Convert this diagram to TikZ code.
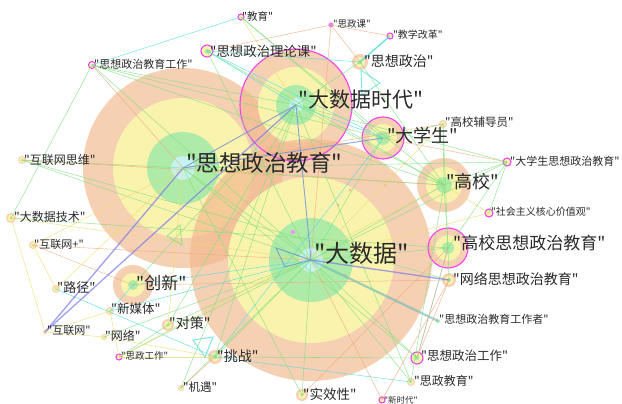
\documentclass[tikz,border=0pt]{standalone}
\usepackage{fontspec}
\newfontfamily\cjk{Noto Sans CJK SC}
\definecolor{cor}{HTML}{F2B98F}
\definecolor{cye}{HTML}{FBF6AE}
\definecolor{cgr}{HTML}{ACEBA8}
\definecolor{cbl}{HTML}{C8F3F3}
\definecolor{cmg}{HTML}{F040F0}
\definecolor{egr}{HTML}{7CE07C}
\definecolor{ecy}{HTML}{55DDE0}
\definecolor{eye}{HTML}{EEDD70}
\definecolor{eor}{HTML}{F0A878}
\definecolor{epu}{HTML}{8080E8}
\definecolor{ebl}{HTML}{7090D8}
\definecolor{txt}{HTML}{2A2A2A}
\begin{document}
\begin{tikzpicture}[x=1pt,y=-1pt,
  lbl/.style={font=\cjk\fontsize{#1}{#1}\selectfont, text=txt, anchor=west, inner sep=0pt},
  ring/.style={fill=#1, fill opacity=0.95, draw=none},
  oring/.style={fill=cor, fill opacity=0.68, draw=none},
  mring/.style={draw=cmg, line width=1.1pt, fill=none},
  eg/.style={draw=egr, line width=0.55pt, opacity=0.75},
  ec/.style={draw=ecy, line width=0.55pt, opacity=0.8},
  ey/.style={draw=eye, line width=0.55pt, opacity=0.8},
  eo/.style={draw=eor, line width=0.55pt, opacity=0.75},
  ep/.style={draw=epu, line width=1.3pt, opacity=0.75},
  eb/.style={draw=ebl, line width=0.9pt, opacity=0.8}]
\useasboundingbox (0,0) rectangle (622,404);
% centres
\coordinate (szjy) at (183,168);
\coordinate (dsj) at (311,260);
\coordinate (dsjsd) at (296,105);
\coordinate (dxs) at (383,138);
\coordinate (gx) at (444,185);
\coordinate (gxszzjy) at (448,248);
\coordinate (wlszzjy) at (449,280);
\coordinate (cx) at (133,285);
\coordinate (jy) at (241,17);
\coordinate (szzllk) at (207,51);
\coordinate (szzjygz) at (92,65);
\coordinate (hlwsw) at (22,160);
\coordinate (szk) at (331,25);
\coordinate (jxgg) at (390,36);
\coordinate (szzz) at (360,62);
\coordinate (gxfdy) at (443,124);
\coordinate (dxsszzjy) at (507,162);
\coordinate (dsjjs) at (11,218);
\coordinate (hlwp) at (33,245);
\coordinate (lj) at (56,289);
\coordinate (xmt) at (110,311);
\coordinate (hlw) at (45,332);
\coordinate (wl) at (104,337);
\coordinate (szgz) at (119,357);
\coordinate (dc) at (168,325);
\coordinate (tz) at (215,357);
\coordinate (jiyu) at (181,388);
\coordinate (sxx) at (302,395);
\coordinate (shzy) at (489,213);
\coordinate (szzjygzz) at (438,321);
\coordinate (szzgz) at (417,358);
\coordinate (szjyu) at (411,382);
\coordinate (xsd) at (382,400);
% triangle helper points
\coordinate (t1a) at (361,70); \coordinate (t1b) at (380,83); \coordinate (t1c) at (362,95);
\coordinate (t2a) at (193,340); \coordinate (t2b) at (213,337); \coordinate (t2c) at (205,357);
\coordinate (t3a) at (167,236); \coordinate (t3b) at (180,225); \coordinate (t3c) at (182,245);
\coordinate (t4a) at (276,248); \coordinate (t4b) at (285,267);
% big circles
\fill[oring] (szjy) circle (100);
\fill[ring=cye] (szjy) circle (70);
\fill[ring=cgr] (szjy) circle (36);
\fill[ring=cbl] (szjy) circle (12);
\fill[oring] (dsjsd) circle (56);
\fill[ring=cye] (dsjsd) circle (38);
\fill[ring=cgr] (dsjsd) circle (20);
\fill[ring=cbl] (dsjsd) circle (7);
\fill[oring] (dsj) circle (121);
\fill[ring=cye] (dsj) circle (83);
\fill[ring=cgr] (dsj) circle (42);
\fill[ring=cbl] (dsj) circle (12);
\draw[mring] (dsjsd) circle (56);
\fill[oring] (dxs) circle (21);
\fill[ring=cye] (dxs) circle (14);
\fill[ring=cgr] (dxs) circle (7);
\draw[mring] (dxs) circle (21);
\fill[oring] (gx) circle (27);
\fill[ring=cye] (gx) circle (18);
\fill[ring=cgr] (gx) circle (8);
\fill[oring] (gxszzjy) circle (20);
\fill[ring=cye] (gxszzjy) circle (13);
\fill[ring=cgr] (gxszzjy) circle (6);
\draw[mring] (gxszzjy) circle (20);
\fill[oring] (cx) circle (20);
\fill[ring=cye] (cx) circle (12);
\fill[ring=cgr] (cx) circle (5);
% small nodes
\foreach \n/\r in {wlszzjy/7,szzz/8,tz/7,dc/6,sxx/6}{
  \fill[oring] (\n) circle (\r);
  \fill[ring=cye] (\n) circle ({\r*0.65});
  \fill[ring=cgr] (\n) circle ({\r*0.3});}
\foreach \n/\r in {hlwsw/4,dsjjs/5,hlwp/4,lj/4,xmt/4,wl/3,jiyu/3,szjyu/4,gxfdy/4}{
  \fill[oring] (\n) circle (\r);
  \fill[ring=cye] (\n) circle ({\r*0.7});
  \fill[ring=cgr] (\n) circle ({\r*0.3});}
\fill[oring] (hlw) circle (2);
\fill[ring=cgr] (szzjygzz) circle (2);
\foreach \n/\r in {szzllk/6,szzgz/6}{
  \fill[ring=cye] (\n) circle (\r);
  \fill[ring=cgr] (\n) circle ({\r*0.4});
  \draw[mring] (\n) circle (\r);}
\foreach \n/\r in {jy/3,szzjygz/3.5,jxgg/3,dxsszzjy/4,szgz/3,shzy/4,xsd/3}{
  \fill[ring=cye] (\n) circle (\r);
  \draw[mring] (\n) circle (\r);}
\fill[cmg!70] (szk) circle (2.5);
% unlabeled dots
\fill[cmg!60] (293,232) circle (2);
\fill[cor] (320,170) circle (1.5);
\fill[cor] (350,190) circle (1.5);
\fill[cor] (345,275) circle (1.5);
\fill[cor] (385,185) circle (1.5);
\fill[cor] (338,205) circle (1.5);
% edges
\draw[eg] (szzjygz) -- (dsj);
\draw[eg] (szzjygz) -- (dsjsd);
\draw[eg] (szzjygz) -- (gx);
\draw[eg] (szzjygz) -- (dxs);
\draw[eg] (szzjygz) -- (dsjjs);
\draw[eo] (szzjygz) -- (szjy);
\draw[ec] (jy) -- (szzjygz);
\draw[ey] (jy) -- (dsjsd);
\draw[eg] (jy) -- (gx);
\draw[eg] (jy) -- (dxs);
\draw[ec] (szzllk) -- (dsjsd);
\draw[ec] (szzllk) -- (dxs);
\draw[eg] (szzllk) -- (gx);
\draw[ec] (szzllk) -- (szzz);
\draw[eg] (szzllk) -- (dsj);
\draw[eo] (szk) -- (jxgg);
\draw[eo] (szk) -- (szzllk);
\draw[eo] (szk) -- (dsj);
\draw[eo] (szk) -- (szzz);
\draw[ec, line width=1.5pt] (jxgg) -- (szzz);
\draw[eg] (szzz) -- (dsjsd);
\draw[eg] (szzz) -- (gx);
\draw[ec, line width=0.9pt] (t1a) -- (t1b) -- (t1c) -- cycle;
\draw[eg] (hlwsw) -- (dsj);
\draw[eg] (hlwsw) -- (szjy);
\draw[eo] (hlwsw) -- (gx);
\draw[eg] (hlwsw) -- (wlszzjy);
\draw[eg] (dsjjs) -- (gxszzjy);
\draw[ey] (dsjjs) -- (hlw);
\draw[ey] (dsjjs) -- (dsj);
\draw[eo] (hlwp) -- (dsj);
\draw[eo] (hlwp) -- (cx);
\draw[ey] (hlwp) -- (lj);
\draw[ey] (hlwp) -- (szjy);
\draw[ec] (lj) -- (tz);
\draw[ey] (lj) -- (szjy);
\draw[ep] (hlw) -- (szjy);
\draw[ep] (hlw) -- (dsjsd);
\draw[ey] (hlw) -- (xmt);
\draw[ey] (hlw) -- (wl);
\draw[ec] (xmt) -- (cx);
\draw[ec] (xmt) -- (dsj);
\draw[ey] (xmt) -- (szgz);
\draw[ec] (cx) -- (dsj);
\draw[eo] (cx) -- (wlszzjy);
\draw[eg] (cx) -- (dsjsd);
\draw[eg] (dc) -- (dsj);
\draw[eg] (dc) -- (dsjsd);
\draw[ey] (dc) -- (szjy);
\draw[eg] (dc) -- (szgz);
\draw[eg] (szgz) -- (dsj);
\draw[ey] (szgz) -- (tz);
\draw[ey] (szgz) -- (gx);
\draw[ey] (wl) -- (tz);
\draw[eg] (wl) -- (dsj);
\draw[eg] (tz) -- (dsj);
\draw[eg] (tz) -- (dsjsd);
\draw[ec] (tz) -- (dxs);
\draw[eg] (tz) -- (szzgz);
\draw[ec, line width=0.9pt] (t2a) -- (t2b) -- (t2c) -- cycle;
\draw[eg, line width=0.9pt] (t3a) -- (t3b) -- (t3c) -- cycle;
\draw[eg] (jiyu) -- (dsj);
\draw[eg] (jiyu) -- (dsjsd);
\draw[eo] (jiyu) -- (tz);
\draw[eg] (sxx) -- (dsj);
\draw[eg] (sxx) -- (szjy);
\draw[eo] (sxx) -- (gxszzjy);
\draw[draw=ecy!60!gray, line width=2.2pt, opacity=0.6] (dsj) -- (szzjygzz);
\draw[eg] (szzgz) -- (dsj);
\draw[eg] (szzgz) -- (szjy);
\draw[ec] (szzgz) -- (gxszzjy);
\draw[eg] (szjyu) -- (dsj);
\draw[eg] (szjyu) -- (dsjsd);
\draw[eg] (szjyu) -- (gx);
\draw[ec] (szjyu) -- (tz);
\draw[eo] (xsd) -- (wlszzjy);
\draw[eo] (xsd) -- (dsj);
\draw[ey] (shzy) -- (dsj);
\draw[ey] (shzy) -- (gx);
\draw[eg] (shzy) -- (dxsszzjy);
\draw[eg] (dxsszzjy) -- (gx);
\draw[eo] (dxsszzjy) -- (dxs);
\draw[eg] (dxsszzjy) -- (szjy);
\draw[eg] (dxsszzjy) -- (dsj);
\draw[eg] (dxsszzjy) -- (gxszzjy);
\draw[eg] (dxsszzjy) -- (dsjsd);
\draw[eg] (gxfdy) -- (gx);
\draw[eg] (gxfdy) -- (dxs);
\draw[ey] (gxfdy) -- (dsj);
\draw[eg] (gxfdy) -- (gxszzjy);
\draw[eo] (gxfdy) -- (szjy);
\draw[eg] (gxszzjy) -- (gx);
\draw[eg] (gxszzjy) -- (wlszzjy);
\draw[eo] (gxszzjy) -- (szzgz);
\draw[eg] (gxszzjy) -- (dsj);
\draw[ep] (dsj) -- (wlszzjy);
\draw[eo] (wlszzjy) -- (szzgz);
\draw[eg] (dsj) -- (szjy);
\draw[eb] (dsj) -- (dsjsd);
\draw[eb] (szjy) -- (dsjsd);
\draw[eb] (dxs) -- (szjy);
\draw[eg] (dsj) -- (gx);
\draw[eg] (dsj) -- (dxs);
\draw[ec] (dsjsd) -- (dxs);
\draw[eg] (dsjsd) -- (gx);
\draw[eg] (szjy) -- (gx);
\draw[eb] (dsj) -- (t4a) -- (t4b) -- cycle;
% labels
\node[lbl=24] (l-dsj) at (314,253) {"大数据"};
\node[lbl=22.5] (l-szjy) at (186,163) {"思想政治教育"};
\node[lbl=21] (l-dsjsd) at (298,100) {"大数据时代"};
\node[lbl=18] (l-dxs) at (387,136) {"大学生"};
\node[lbl=18] (l-gx) at (446,182) {"高校"};
\node[lbl=17] (l-gxszzjy) at (453,243) {"高校思想政治教育"};
\node[lbl=14] (l-wlszzjy) at (453,279) {"网络思想政治教育"};
\node[lbl=17] (l-cx) at (136,283) {"创新"};
\node[lbl=11] (l-szzjygzz) at (439,319) {"思想政治教育工作者"};
\node[lbl=12.5] (l-szzgz) at (421,356) {"思想政治工作"};
\node[lbl=12] (l-szjyu) at (414,381) {"思政教育"};
\node[lbl=8.5] (l-xsd) at (384,400) {"新时代"};
\node[lbl=13.5] (l-sxx) at (303,394) {"实效性"};
\node[lbl=10] (l-shzy) at (491,212) {"社会主义核心价值观"};
\node[lbl=11] (l-dxsszzjy) at (510,161) {"大学生思想政治教育"};
\node[lbl=11.5] (l-gxfdy) at (445,122) {"高校辅导员"};
\node[lbl=14] (l-szzz) at (364,61) {"思想政治"};
\node[lbl=10] (l-jxgg) at (393,35) {"教学改革"};
\node[lbl=9.5] (l-szk) at (333,24) {"思政课"};
\node[lbl=10.5] (l-jy) at (242,16) {"教育"};
\node[lbl=13.4] (l-szzllk) at (210,51) {"思想政治理论课"};
\node[lbl=11] (l-szzjygz) at (94,64) {"思想政治教育工作"};
\node[lbl=12] (l-hlwsw) at (24,160) {"互联网思维"};
\node[lbl=12] (l-dsjjs) at (14,217) {"大数据技术"};
\node[lbl=11] (l-hlwp) at (34,244) {"互联网+"};
\node[lbl=13] (l-lj) at (57,288) {"路径"};
\node[lbl=12.5] (l-xmt) at (111,309) {"新媒体"};
\node[lbl=11] (l-hlw) at (47,330) {"互联网"};
\node[lbl=12] (l-wl) at (105,336) {"网络"};
\node[lbl=9.5] (l-szgz) at (121,356) {"思政工作"};
\node[lbl=14] (l-dc) at (169,323) {"对策"};
\node[lbl=14] (l-tz) at (217,356) {"挑战"};
\node[lbl=11.5] (l-jiyu) at (183,387) {"机遇"};
\end{tikzpicture}
\end{document}
